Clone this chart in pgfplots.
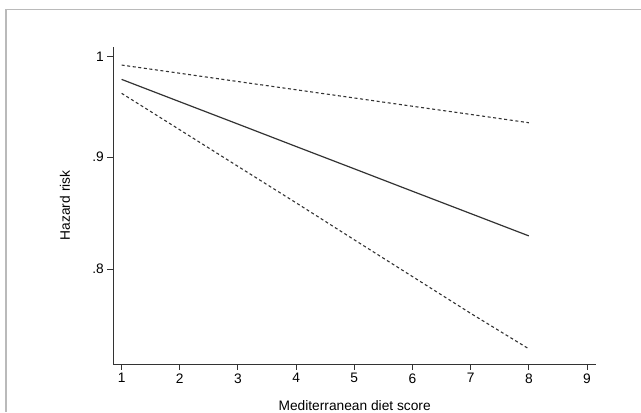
\documentclass[border=0pt]{standalone}
\usepackage{fontspec}
\setmainfont{Liberation Sans}
\usepackage{pgfplots}
\pgfplotsset{compat=1.18}
\begin{document}
\begin{tikzpicture}[x=1bp,y=1bp]
\useasboundingbox (0,0) rectangle (641,412);
\draw[black!27, line width=1.6bp] (5.8,0) -- (5.8,402.5) -- (641,402.5);
\begin{axis}[
  at={(113.3bp,48bp)}, anchor=south west,
  scale only axis, width=482.7bp, height=317.3bp,
  xmin=0.857, xmax=9.155, ymin=0.7241, ymax=1.0106,
  ymode=log,
  axis lines=left,
  axis line style={-, line width=1bp, black!80},
  xtick={1,2,3,4,5,6,7,8,9},
  ytick={0.8,0.9,1}, yticklabels={.8,.9,1},
  minor tick num=0,
  tick align=outside, major tick length=6bp,
  tick style={black!80, line width=1bp},
  /pgf/number format/assume math mode=true,
  tick label style={font=\fontsize{13.8}{16}\selectfont},
  label style={font=\fontsize{13.8}{16}\selectfont},
  xlabel={Mediterranean diet score},
  ylabel={Hazard risk},
  xlabel style={at={(axis description cs:0.5,0)}, anchor=north, inner sep=0pt, yshift=-36.5bp},
  ylabel style={at={(axis description cs:-0.1001,0.5)}, anchor=center, inner sep=0pt},
  clip=false,
]
\addplot[black!80, line width=1.2bp] coordinates {
(1,0.9765) (2,0.9538) (3,0.9317) (4,0.9100) (5,0.8889) (6,0.8682) (7,0.8481) (8,0.8284)};
\addplot[black!80, line width=1.1bp, dash pattern=on 3bp off 2.6bp] coordinates {
(1,0.9913) (2,0.9828) (3,0.9743) (4,0.9659) (5,0.9576) (6,0.9493) (7,0.9412) (8,0.9330)};
\addplot[black!80, line width=1.1bp, dash pattern=on 3bp off 2.6bp] coordinates {
(1,0.9623) (2,0.9261) (3,0.8912) (4,0.8577) (5,0.8250) (6,0.7938) (7,0.7638) (8,0.7357)};
\end{axis}
\end{tikzpicture}
\end{document}
